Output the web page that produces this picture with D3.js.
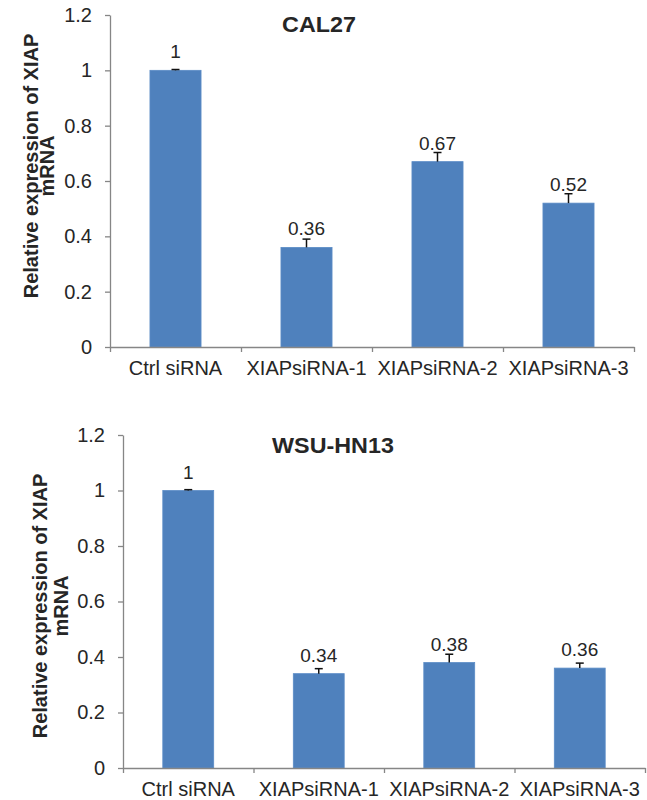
<!DOCTYPE html>
<html>
<head>
<meta charset="utf-8">
<script src="https://cdn.jsdelivr.net/npm/d3@7"></script>
<style>
  body { margin: 0; background: #fff; }
  text { font-family: "Liberation Sans", Arial, sans-serif; fill: #262626; }
</style>
</head>
<body>
<svg id="chart" width="647" height="800"></svg>
<script>
const categories = ["Ctrl siRNA", "XIAPsiRNA-1", "XIAPsiRNA-2", "XIAPsiRNA-3"];
const yTicks = [0, 0.2, 0.4, 0.6, 0.8, 1, 1.2];

const cal27Values = [1, 0.36, 0.67, 0.52];
const cal27Errors = [0.003, 0.03, 0.033, 0.034];

const wsuValues = [1, 0.34, 0.38, 0.36];
const wsuErrors = [0.003, 0.018, 0.03, 0.018];

const svg = d3.select("#chart");

// Widen some text a little to match the original rendering
function stretch(sel, k) {
  sel.each(function () {
    const w = this.getComputedTextLength();
    d3.select(this).attr("textLength", w * k).attr("lengthAdjust", "spacingAndGlyphs");
  });
}

function drawPanel(opts) {
  const { left, right, top, bottom, title, titleX, titleY, values, errors, yTitleX, yTitleY, yTitleGap } = opts;

  const g = svg.append("g");

  const x = d3.scaleBand()
    .domain(categories)
    .range([left, right])
    .padding(0);

  const y = d3.scaleLinear()
    .domain([0, 1.2])
    .range([bottom, top]);

  const data = categories.map((c, i) => ({ cat: c, value: values[i], err: errors[i] }));
  const barW = x.bandwidth() * 0.39;

  // Bars
  g.selectAll(".bar")
    .data(data)
    .join("rect")
    .attr("class", "bar")
    .attr("x", d => x(d.cat) + (x.bandwidth() - barW) / 2)
    .attr("y", d => y(d.value))
    .attr("width", barW)
    .attr("height", d => y(0) - y(d.value))
    .attr("fill", "#4f81bd")
    .attr("stroke", "#5b8cc6")
    .attr("stroke-width", 0.8);

  // Error bars (upper only)
  const eb = g.selectAll(".err")
    .data(data)
    .join("g")
    .attr("class", "err")
    .attr("transform", d => `translate(${x(d.cat) + x.bandwidth() / 2},0)`);

  eb.append("line")
    .attr("y1", d => y(d.value))
    .attr("y2", d => y(d.value + d.err))
    .attr("stroke", "#111")
    .attr("stroke-width", 1.5);

  eb.append("line")
    .attr("x1", -4)
    .attr("x2", 4)
    .attr("y1", d => y(d.value + d.err))
    .attr("y2", d => y(d.value + d.err))
    .attr("stroke", "#111")
    .attr("stroke-width", 1.5);

  // Value labels
  g.selectAll(".val")
    .data(data)
    .join("text")
    .attr("class", "val")
    .attr("x", d => x(d.cat) + x.bandwidth() / 2)
    .attr("y", d => y(d.value) - 12)
    .attr("text-anchor", "middle")
    .style("font-size", "19px")
    .text(d => d3.format("")(d.value));

  // Y axis
  const yAxis = g.append("g")
    .attr("transform", `translate(${left},0)`)
    .call(d3.axisLeft(y).tickValues(yTicks).tickSize(5).tickSizeOuter(0).tickPadding(13).tickFormat(d3.format("")));
  yAxis.selectAll("path, line").attr("stroke", "#868686").attr("stroke-width", 1.3);
  yAxis.selectAll("text").style("font-size", "20px").attr("fill", "#262626");

  // X axis: boundary ticks between categories
  const edges = d3.scaleLinear().domain([0, categories.length]).range([left, right]);
  const xAxis = g.append("g")
    .attr("transform", `translate(0,${bottom})`)
    .call(d3.axisBottom(edges).tickValues(d3.range(categories.length + 1)).tickSize(5).tickSizeOuter(0).tickFormat(""));
  xAxis.selectAll("path, line").attr("stroke", "#868686").attr("stroke-width", 1.3);

  // X axis: category labels
  const xLab = g.append("g")
    .attr("transform", `translate(0,${bottom})`)
    .call(d3.axisBottom(x).tickSize(0).tickPadding(14));
  xLab.select(".domain").remove();
  xLab.selectAll("text").style("font-size", "20px").attr("fill", "#262626");

  // Chart title
  const t = g.append("text")
    .attr("x", titleX)
    .attr("y", titleY)
    .attr("text-anchor", "middle")
    .style("font-size", "22px")
    .style("font-weight", "bold")
    .attr("fill", "#000")
    .text(title);
  stretch(t, 1.06);

  // Y axis title, two lines
  const yt = g.append("text")
    .attr("transform", `translate(${yTitleX},${yTitleY}) rotate(-90)`)
    .attr("text-anchor", "middle")
    .style("font-size", "20px")
    .style("font-weight", "bold")
    .attr("fill", "#000");
  yt.append("tspan").attr("x", 0).attr("dy", 0).text("Relative expression of XIAP");
  yt.append("tspan").attr("x", 0).attr("dy", yTitleGap).text("mRNA");
}

drawPanel({
  left: 110, right: 634, top: 15, bottom: 347,
  title: "CAL27", titleX: 319, titleY: 32,
  values: cal27Values, errors: cal27Errors,
  yTitleX: 38, yTitleY: 166, yTitleGap: 16
});

drawPanel({
  left: 123, right: 645, top: 435, bottom: 768,
  title: "WSU-HN13", titleX: 333, titleY: 453,
  values: wsuValues, errors: wsuErrors,
  yTitleX: 47, yTitleY: 606, yTitleGap: 21
});
</script>
</body>
</html>
